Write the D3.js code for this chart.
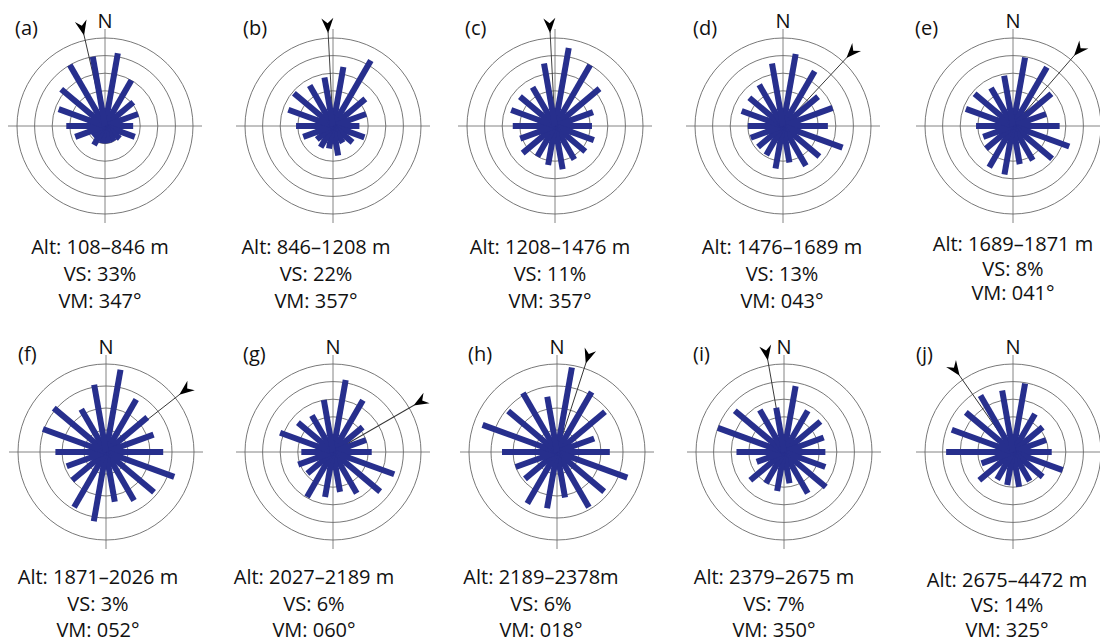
<!DOCTYPE html>
<html>
<head>
<meta charset="utf-8">
<script src="https://cdn.jsdelivr.net/npm/d3@7"></script>
<style>
  body { margin: 0; background: #fff; }
  svg { display: block; }
  text { font-family: "Open Sans", "Noto Sans", sans-serif; fill: #111; }
</style>
</head>
<body>
<svg id="chart" width="1100" height="642"></svg>
<script>
// 20-degree direction bins, centred on odd multiples of 10
const binCenters = [10, 30, 50, 70, 90, 110, 130, 150, 170, 190, 210, 230, 250, 270, 290, 310, 330, 350];

// bar lengths in ring units, one value per bin
const freqA = [4.2, 3.0, 2.1, 2.0, 1.6, 1.8, 1.1, 1.0, 1.0, 1.0, 1.25, 0.9, 1.8, 2.2, 2.8, 3.25, 4.0, 4.0];
const freqB = [3.4, 4.3, 2.4, 2.0, 1.5, 1.9, 1.45, 1.1, 1.7, 1.3, 1.4, 1.2, 1.8, 2.1, 2.7, 2.9, 2.65, 2.8];
const freqC = [4.5, 4.0, 3.3, 2.3, 2.1, 2.35, 2.25, 2.2, 2.5, 2.25, 2.0, 2.4, 2.1, 2.4, 2.65, 2.6, 2.55, 3.6];
const freqD = [4.15, 3.6, 2.6, 3.0, 2.55, 3.6, 2.7, 2.6, 2.1, 2.45, 1.9, 1.85, 1.95, 2.0, 2.5, 2.5, 2.7, 3.6];
const freqE = [3.95, 3.85, 2.85, 2.0, 2.65, 3.4, 2.9, 2.25, 2.2, 2.8, 2.7, 2.0, 1.8, 2.1, 2.85, 2.85, 2.5, 2.9];
const freqF = [3.8, 2.75, 2.45, 2.3, 2.6, 3.3, 2.85, 2.55, 2.3, 3.2, 2.9, 2.0, 1.9, 2.3, 3.05, 3.1, 2.25, 3.1];
const freqG = [4.15, 3.4, 2.2, 2.0, 2.2, 3.7, 3.5, 2.7, 2.3, 2.6, 2.95, 1.9, 2.1, 1.8, 3.2, 2.6, 2.4, 3.0];
const freqH = [3.9, 3.15, 2.85, 1.8, 2.4, 3.4, 2.8, 2.9, 2.1, 2.6, 2.7, 1.9, 2.0, 2.5, 3.6, 2.9, 3.1, 2.55];
const freqI = [3.8, 2.7, 2.7, 2.4, 2.35, 2.5, 3.1, 2.7, 1.8, 2.25, 2.05, 2.5, 1.65, 2.7, 4.0, 3.65, 2.75, 2.55];
const freqJ = [3.95, 2.5, 2.2, 2.0, 2.2, 3.0, 2.2, 1.9, 2.0, 1.9, 1.8, 2.5, 1.9, 3.8, 3.7, 3.5, 3.7, 3.55];

const panelLetters = ["a", "b", "c", "d", "e", "f", "g", "h", "i", "j"];
const altRanges = ["108–846 m", "846–1208 m", "1208–1476 m", "1476–1689 m", "1689–1871 m",
  "1871–2026 m", "2027–2189 m", "2189–2378m", "2379–2675 m", "2675–4472 m"];
const vsPercent = [33, 22, 11, 13, 8, 3, 6, 6, 7, 14];
const vmDegrees = [347, 357, 357, 43, 41, 52, 60, 18, 350, 325];
const ringCounts = [5, 5, 5, 5, 5, 4, 5, 4, 5, 5];
const freqs = [freqA, freqB, freqC, freqD, freqE, freqF, freqG, freqH, freqI, freqJ];

// layout (pixels)
const centersX = [105, 333, 555, 783, 1013, 106, 333, 557, 784, 1013];
const centersY = [126, 126, 126, 126, 126, 452, 452, 452, 452, 452];
const textX = [100, 316, 550, 782, 1013, 98, 314, 541, 774, 1007];
const textTop = [254, 254, 254, 254, 251, 584, 584, 584, 584, 587];
const textGap = [27, 27, 27, 27, 24.5, 26.5, 26.5, 26.5, 26.5, 25];
const letterDx = [-90, -90, -90, -90, -98, -88, -90, -89, -91, -97];

const outerR = 88;
const crossR = 97;
const barWidth = 6;
const barColor = "#272f8d";

const svg = d3.select("#chart");

const panels = panelLetters.map((letter, i) => ({
  letter,
  alt: altRanges[i],
  vs: vsPercent[i],
  vm: vmDegrees[i],
  rings: ringCounts[i],
  values: freqs[i],
  i,
}));

panels.forEach((p) => {
  const g = svg.append("g")
    .attr("transform", `translate(${centersX[p.i]},${centersY[p.i]})`);

  const r = d3.scaleLinear().domain([0, p.rings]).range([0, outerR]);
  const angle = d3.scaleLinear().domain([0, 360]).range([0, 360]);

  // rings
  g.append("g")
    .selectAll("circle")
    .data(d3.range(1, p.rings + 1))
    .join("circle")
    .attr("r", (d) => r(d))
    .attr("fill", "none")
    .attr("stroke", "#555")
    .attr("stroke-width", 0.8);

  // crosshair
  g.append("line").attr("x1", -crossR).attr("x2", crossR).attr("y1", 0).attr("y2", 0)
    .attr("stroke", "#666").attr("stroke-width", 0.8);
  g.append("line").attr("y1", -crossR).attr("y2", crossR).attr("x1", 0).attr("x2", 0)
    .attr("stroke", "#666").attr("stroke-width", 0.8);

  // vector mean arrow
  const arrow = g.append("g").attr("transform", `rotate(${angle(p.vm)})`);
  arrow.append("line")
    .attr("x1", 0).attr("y1", 0).attr("x2", 0).attr("y2", -94)
    .attr("stroke", "#333").attr("stroke-width", 0.9);
  arrow.append("path")
    .attr("d", "M0,-93 L-6,-108 L0,-103 L6,-108 Z")
    .attr("fill", "#000");

  // petals
  g.append("g")
    .selectAll("rect")
    .data(p.values.map((v, k) => ({ v, dir: binCenters[k] })))
    .join("rect")
    .attr("x", -barWidth / 2)
    .attr("y", (d) => -r(d.v))
    .attr("width", barWidth)
    .attr("height", (d) => r(d.v))
    .attr("transform", (d) => `rotate(${angle(d.dir)})`)
    .attr("fill", barColor);

  // N label, hidden when the arrow sits on north
  const offNorth = Math.min(p.vm, 360 - p.vm);
  if (offNorth > 5) {
    g.append("text")
      .attr("x", 0).attr("y", -98)
      .attr("text-anchor", "middle")
      .attr("font-size", 20)
      .text("N");
  }

  g.append("text")
    .attr("x", letterDx[p.i]).attr("y", -91)
    .attr("font-size", 20)
    .text(`(${p.letter})`);

  // caption
  const lines = [`Alt: ${p.alt}`, `VS: ${p.vs}%`, `VM: ${String(p.vm).padStart(3, "0")}°`];
  svg.append("g")
    .selectAll("text")
    .data(lines)
    .join("text")
    .attr("x", textX[p.i])
    .attr("y", (d, k) => textTop[p.i] + k * textGap[p.i])
    .attr("text-anchor", "middle")
    .attr("font-size", 20)
    .text((d) => d);
});
</script>
</body>
</html>
